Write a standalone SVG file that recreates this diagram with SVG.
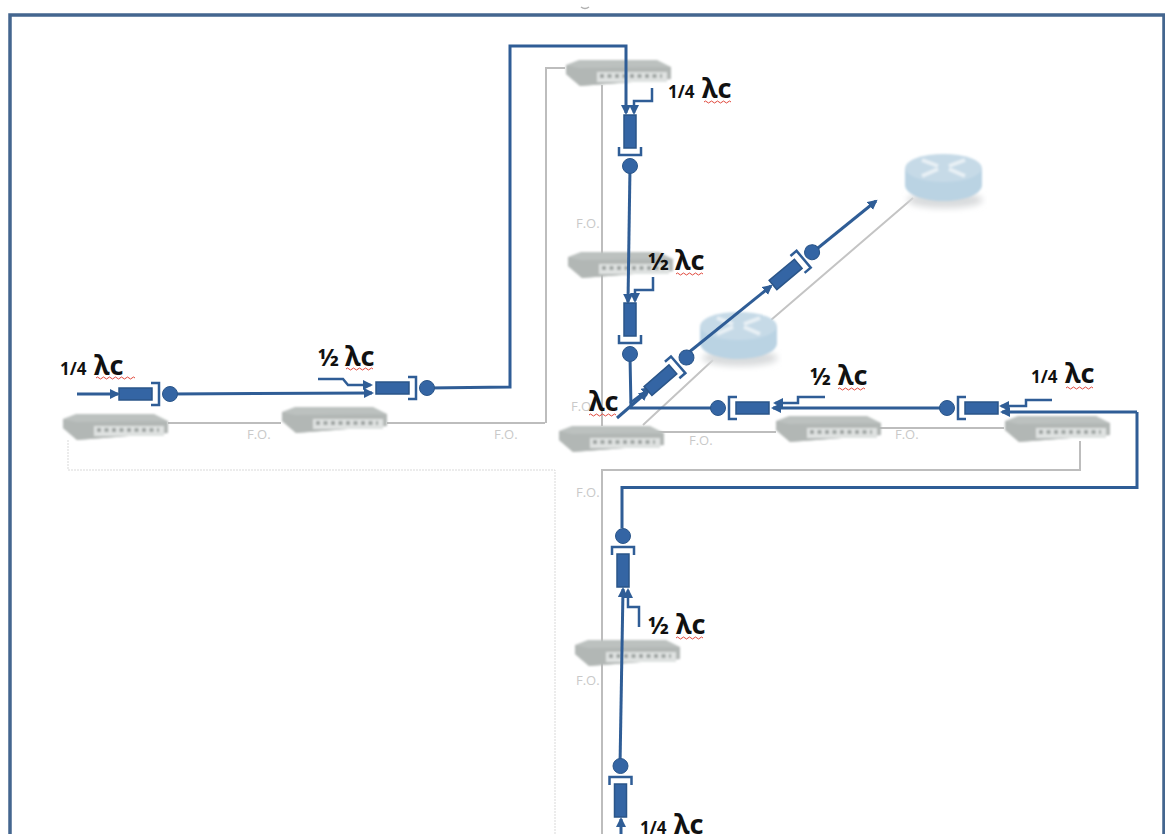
<svg xmlns="http://www.w3.org/2000/svg" width="1165" height="834" viewBox="0 0 1165 834">
<style>
.g{fill:none;stroke:#bdbdbd;stroke-width:2}
.gd{fill:none;stroke:#d9d9d9;stroke-width:1;stroke-dasharray:2 1}
.b{fill:none;stroke:#2f5d96;stroke-width:3;stroke-linejoin:miter}
.bt{fill:none;stroke:#2f5d96;stroke-width:2.500}
.fo{font:13px "Open Sans",sans-serif;fill:#c9c9c9}
.lb{font:bold 17px "Noto Sans",sans-serif;fill:#111}
.lh{font:bold 24px "Noto Sans",sans-serif;fill:#111}
.lm{font:bold 27px "Noto Sans",sans-serif;fill:#111}
.sq{fill:none;stroke:#e0483c;stroke-width:1}
</style>
<defs>
<filter id="s" x="-5%" y="-10%" width="110%" height="120%"><feGaussianBlur stdDeviation="0.8"/></filter>
<filter id="rs" x="-20%" y="-40%" width="140%" height="180%"><feGaussianBlur stdDeviation="3"/></filter>
<marker id="a" markerWidth="12" markerHeight="12" refX="8" refY="5" orient="auto" markerUnits="userSpaceOnUse"><path d="M0 0L10 5L0 10Z" fill="#2f5d96"/></marker>
<g id="sw">
<path d="M1 6L14 1H92L106 8V20L15 27L1 15Z" fill="#bcc1bf"/>
<path d="M15 27L106 20V8L14 9L1 6V15Z" fill="#b2b7b5"/>
<rect x="32" y="13" width="70" height="10" fill="#dfe2e1"/>
<path d="M35 17h62" stroke="#9da3a1" stroke-width="4" stroke-dasharray="4 3.500"/>
</g>
<g id="rt">
<ellipse cx="40" cy="46" rx="38" ry="8" fill="#d8dadc" filter="url(#rs)"/>
<path d="M0 14V31C0 40 17 47 38.500 47S77 40 77 31V14Z" fill="#bad3e3"/>
<ellipse cx="38.500" cy="14" rx="38.500" ry="14" fill="#c6dae7"/>
<path d="M17 6L33 12M17 22L33 15M60 6L44 12M60 22L44 15" stroke="#e8f0f5" stroke-width="4" fill="none"/>
</g>
<g id="tx">
<rect x="0" y="-6" width="33" height="12" fill="#3465a4" stroke="#2a5589" stroke-width="1.500"/>
<path d="M32 -11H40V11H32" fill="none" stroke="#2f5d96" stroke-width="2.500"/>
<circle cx="51" cy="0" r="7.500" fill="#3465a4" stroke="#2a5589"/>
</g>
</defs>
<rect width="1165" height="834" fill="#fff"/>
<path d="M10 834V15H1164V834" fill="none" stroke="#44668f" stroke-width="3.500"/>
<path d="M581 7q4 3 8 0" fill="none" stroke="#b0b0b0" stroke-width="1.500"/>

<g id="links">
<path class="g" d="M168 423H281M387 423H545M565 68H546V423"/>
<path class="g" d="M602 85V426M650 432H776M875 428H1004"/>
<path class="g" d="M1080 441V470H602V834"/>
<path class="gd" d="M68 440V470H555V834"/>
<path d="M643 425L713 360M771 320L913 198" fill="none" stroke="#c4c4c4" stroke-width="2"/>
</g>

<g id="switch-1" filter="url(#s)"><use href="#sw" x="62" y="413"/></g>
<g id="switch-2" filter="url(#s)"><use href="#sw" x="281" y="406"/></g>
<g id="switch-3" filter="url(#s)"><use href="#sw" x="565" y="59"/></g>
<g id="switch-4" filter="url(#s)"><use href="#sw" x="567" y="251"/></g>
<g id="switch-5" filter="url(#s)"><use href="#sw" x="558" y="425"/></g>
<g id="switch-6" filter="url(#s)"><use href="#sw" x="775" y="415"/></g>
<g id="switch-7" filter="url(#s)"><use href="#sw" x="1004" y="415"/></g>
<g id="switch-8" filter="url(#s)"><use href="#sw" x="574" y="639"/></g>
<g id="router-1" filter="url(#s)"><use href="#rt" x="905" y="154"/></g>
<g id="router-2" filter="url(#s)"><use href="#rt" x="700" y="312"/></g>

<g id="fo-labels">
<text class="fo" x="247" y="439">F.O.</text>
<text class="fo" x="494" y="439">F.O.</text>
<text class="fo" x="576" y="228">F.O.</text>
<text class="fo" x="571" y="411">F.O.</text>
<text class="fo" x="689" y="445">F.O.</text>
<text class="fo" x="895" y="439">F.O.</text>
<text class="fo" x="576" y="497">F.O.</text>
<text class="fo" x="576" y="685">F.O.</text>
</g>

<g id="connectors">
<path class="b" marker-end="url(#a)" d="M77 394H118"/>
<path class="b" marker-end="url(#a)" d="M170 394L372 393"/>
<path class="bt" marker-end="url(#a)" d="M318 379H343L348 385H371"/>
<path class="b" marker-end="url(#a)" d="M428 388L510 387V46H626V113"/>
<path class="bt" marker-end="url(#a)" d="M652 88V101H634V113"/>
<path class="b" marker-end="url(#a)" d="M630 167L628 302"/>
<path class="bt" marker-end="url(#a)" d="M653 277V290H635V301"/>
<path class="b" d="M630 356L631 408H712"/>
<path class="b" marker-end="url(#a)" d="M617 418L647 392"/>
<path class="bt" marker-end="url(#a)" d="M630 403L650 388"/>
<path class="b" marker-end="url(#a)" d="M688 353L771 286"/>
<path class="b" marker-end="url(#a)" d="M813 252L876 201"/>
<path class="b" marker-end="url(#a)" d="M946 408H773"/>
<path class="bt" marker-end="url(#a)" d="M825 397H798V403H775"/>
<path class="b" marker-end="url(#a)" d="M1137 412V487.500H622V528M1137 412H1002"/>
<path class="bt" marker-end="url(#a)" d="M1052 400H1026V406H1001"/>
<path class="b" marker-end="url(#a)" d="M620 766L623 589"/>
<path class="bt" marker-end="url(#a)" d="M639 627V607H628V590"/>
<path class="b" marker-end="url(#a)" d="M621 834V819"/>
</g>

<g id="tx-1"><use href="#tx" transform="translate(119 394)"/></g>
<g id="tx-2"><use href="#tx" transform="translate(376 388)"/></g>
<g id="tx-3"><use href="#tx" transform="translate(630 115) rotate(90)"/></g>
<g id="tx-4"><use href="#tx" transform="translate(630 303) rotate(90)"/></g>
<g id="tx-5"><use href="#tx" transform="translate(648 391) rotate(-41)"/></g>
<g id="tx-6"><use href="#tx" transform="translate(773 285) rotate(-40)"/></g>
<g id="tx-7"><use href="#tx" transform="translate(769 408) rotate(180)"/></g>
<g id="tx-8"><use href="#tx" transform="translate(998 408) rotate(180)"/></g>
<g id="tx-9"><use href="#tx" transform="translate(623 587) rotate(-90)"/></g>
<g id="tx-10"><use href="#tx" transform="translate(620.500 817) rotate(-90)"/></g>

<g id="labels">
<text class="lb" x="60" y="375">1/4</text><text class="lm" x="94" y="375">λc</text>
<text class="lh" x="318" y="366">½</text><text class="lm" x="345" y="366">λc</text>
<text class="lb" x="668" y="98">1/4</text><text class="lm" x="702" y="98">λc</text>
<text class="lh" x="648" y="270">½</text><text class="lm" x="675" y="270">λc</text>
<text class="lm" x="589" y="411">λc</text>
<text class="lh" x="810" y="385">½</text><text class="lm" x="838" y="385">λc</text>
<text class="lb" x="1031" y="383">1/4</text><text class="lm" x="1065" y="383">λc</text>
<text class="lh" x="648" y="634">½</text><text class="lm" x="676" y="634">λc</text>
<text class="lb" x="640" y="834">1/4</text><text class="lm" x="674" y="834">λc</text>
<g class="sq">
<path d="M96 378q1.500 -2 3 0t3 0t3 0t3 0t3 0t3 0t3 0t3 0t3 0t3 0t3 0t3 0t3 0"/>
<path d="M346 369q1.500 -2 3 0t3 0t3 0t3 0t3 0t3 0t3 0t3 0t3 0"/>
<path d="M704 102q1.500 -2 3 0t3 0t3 0t3 0t3 0t3 0t3 0t3 0t3 0"/>
<path d="M676 274q1.500 -2 3 0t3 0t3 0t3 0t3 0t3 0t3 0t3 0t3 0"/>
<path d="M589 415q1.500 -2 3 0t3 0t3 0t3 0t3 0t3 0t3 0t3 0t3 0"/>
<path d="M838 389q1.500 -2 3 0t3 0t3 0t3 0t3 0t3 0t3 0t3 0t3 0"/>
<path d="M1066 388q1.500 -2 3 0t3 0t3 0t3 0t3 0t3 0t3 0t3 0t3 0"/>
<path d="M676 638q1.500 -2 3 0t3 0t3 0t3 0t3 0t3 0t3 0t3 0t3 0"/>
</g>
</g>
</svg>
